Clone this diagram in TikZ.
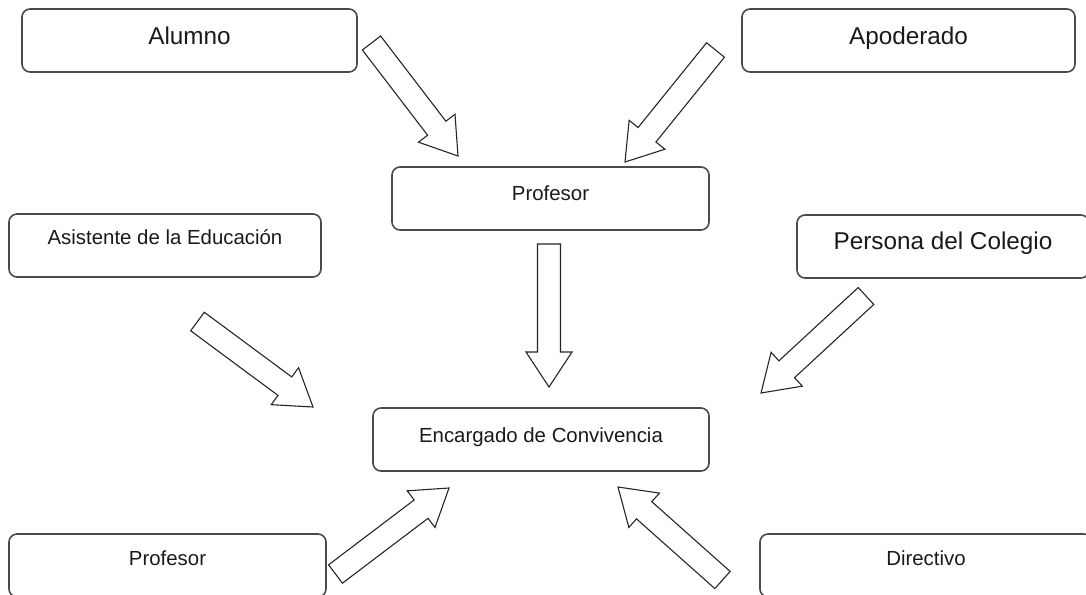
\documentclass[tikz,border=0pt]{standalone}
\usepackage{fontspec}
\setmainfont{Liberation Sans}
\usetikzlibrary{calc}
\definecolor{boxline}{HTML}{4A4A4A}
\definecolor{txt}{HTML}{1A1A1A}
\tikzset{
  box/.style={draw=boxline, line width=1.6pt, rounded corners=8pt, fill=white,
    inner sep=0pt, minimum height=63pt, text=txt},
  smalltxt/.style={font=\fontsize{20.4}{24}\selectfont, text height=14.6pt},
  bigtxt/.style={font=\fontsize{24.3}{28}\selectfont, text height=17.4pt},
  barrow/.style={draw=black!85, line width=1.1pt, fill=white, line join=miter}
}
\newcommand{\blockarrow}[2]{%
  \coordinate (ba-n) at ($(#2)!35pt!(#1)$);
  \draw[barrow] ($(#1)!11.5pt!90:(#2)$) -- ($(ba-n)!11.5pt!90:(#2)$) --
    ($(ba-n)!23pt!90:(#2)$) -- (#2) -- ($(ba-n)!23pt!-90:(#2)$) --
    ($(ba-n)!11.5pt!-90:(#2)$) -- ($(#1)!11.5pt!-90:(#2)$) -- cycle;
}
\begin{document}
\begin{tikzpicture}[x=1pt, y=-1pt]
\useasboundingbox (0,0) rectangle (1086,594);
\fill[white] (0,0) rectangle (1086,594);

% boxes
\node[box, bigtxt, minimum width=335pt, text depth=9pt] (alumno) at (189.5,40.5) {Alumno};
\node[box, bigtxt, minimum width=333pt, text depth=9pt] (apoderado) at (908.5,40.5) {Apoderado};
\node[box, smalltxt, minimum width=317pt, text depth=11pt] (prof1) at (550.5,198.5) {Profesor};
\node[box, smalltxt, minimum width=312pt, text depth=17pt] (asist) at (165,245.5) {Asistente de la Educación};
\node[box, bigtxt, minimum width=292pt, text depth=11pt] (persona) at (943,246.5) {Persona del Colegio};
\node[box, smalltxt, minimum width=336pt, text depth=9pt] (encargado) at (541,439.5) {Encargado de Convivencia};
\node[box, smalltxt, minimum width=317pt, text depth=15pt] (prof2) at (167.5,565.5) {Profesor};
\node[box, smalltxt, minimum width=332pt, text depth=15pt] (directivo) at (926,565.5) {Directivo};

% arrow ends
\coordinate (t1) at (371.5,43);   \coordinate (h1) at (458,156);
\coordinate (t2) at (715.5,50);   \coordinate (h2) at (625,162);
\coordinate (t3) at (549,244);    \coordinate (h3) at (549,387);
\coordinate (t4) at (197.5,321.5);\coordinate (h4) at (313,407);
\coordinate (t5) at (866,296);    \coordinate (h5) at (761,393);
\coordinate (t6) at (335.5,574);  \coordinate (h6) at (449,488);
\coordinate (t7) at (722.5,580);  \coordinate (h7) at (618,487);

\blockarrow{t1}{h1}
\blockarrow{t2}{h2}
\blockarrow{t3}{h3}
\blockarrow{t4}{h4}
\blockarrow{t5}{h5}
\blockarrow{t6}{h6}
\blockarrow{t7}{h7}
\end{tikzpicture}
\end{document}
